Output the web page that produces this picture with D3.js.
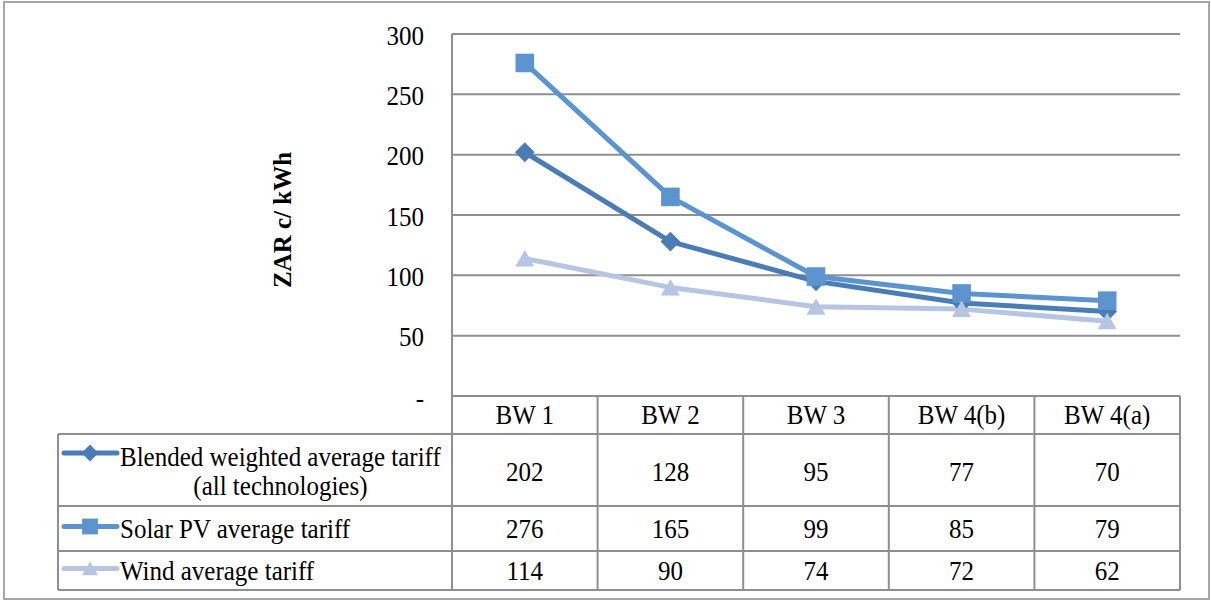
<!DOCTYPE html>
<html>
<head>
<meta charset="utf-8">
<script src="https://cdn.jsdelivr.net/npm/d3@7"></script>
<style>
  html, body { margin: 0; padding: 0; background: #fff; }
  svg { display: block; }
</style>
</head>
<body>
<svg id="chart" width="1211" height="600"></svg>
<script>
// Bid windows (categories)
const categories = ["BW 1", "BW 2", "BW 3", "BW 4(b)", "BW 4(a)"];

// Tariffs, ZAR c/kWh
const blended = [202, 128, 95, 77, 70];
const solarPV = [276, 165, 99, 85, 79];
const wind = [114, 90, 74, 72, 62];

// Series labels as shown in the data table
const seriesNames = [
  ["Blended weighted average tariff", "(all technologies)"],
  ["Solar PV average tariff"],
  ["Wind average tariff"]
];

// Y-axis ticks and their labels
const yTicks = [0, 50, 100, 150, 200, 250, 300];
const yTickLabels = ["-", "50", "100", "150", "200", "250", "300"];

const series = [
  { name: seriesNames[0], values: blended, color: "#4A7DB5", symbol: "diamond" },
  { name: seriesNames[1], values: solarPV, color: "#5B94CE", symbol: "square" },
  { name: seriesNames[2], values: wind, color: "#B6C6E2", symbol: "triangle" }
];

const FONT = "Liberation Serif, Times New Roman, serif";
const FS = 25;        // font size
const STRETCH = 1.12; // slight vertical stretch of the glyphs
const svg = d3.select("#chart");
const grid = "#8F8F8F";

// Layout
const plot = { left: 452, right: 1180, top: 34, bottom: 396 };
const tableLeft = 58;
const rowEdges = [396, 434, 506, 551, 590];

const x = d3.scalePoint().domain(categories).range([plot.left, plot.right]).padding(0.5);
const xb = d3.scaleBand().domain(categories).range([plot.left, plot.right]);
const y = d3.scaleLinear().domain([0, 300]).range([plot.bottom, plot.top]);

// Text helper: vertically centred at (tx, ty)
function label(parent, tx, ty, str, anchor) {
  return parent.append("text")
    .style("font-family", FONT)
    .attr("font-size", FS)
    .attr("text-anchor", anchor || "start")
    .attr("dy", "0.34em")
    .attr("transform", `translate(${tx},${ty}) scale(1,${STRETCH})`)
    .text(str);
}

// Outer frame
svg.append("rect")
  .attr("x", 4).attr("y", 2).attr("width", 1205).attr("height", 597)
  .attr("fill", "none").attr("stroke", "#A6A6A6").attr("stroke-width", 2);

// Gridlines
svg.append("g").selectAll("line").data(yTicks).join("line")
  .attr("x1", plot.left).attr("x2", plot.right)
  .attr("y1", d => y(d)).attr("y2", d => y(d))
  .attr("stroke", grid).attr("stroke-width", 2);

// Vertical axis line
svg.append("line")
  .attr("x1", plot.left).attr("x2", plot.left)
  .attr("y1", plot.top).attr("y2", plot.bottom)
  .attr("stroke", grid).attr("stroke-width", 2);

// Y tick labels
const yLab = svg.append("g");
yTicks.forEach((t, i) => label(yLab, 424, y(t) + 1, yTickLabels[i], "end"));

// Y axis title
svg.append("text")
  .style("font-family", FONT)
  .attr("transform", "translate(291,220) rotate(-90)")
  .attr("text-anchor", "middle")
  .attr("font-size", 25)
  .attr("font-weight", "bold")
  .text("ZAR c/ kWh");

// Marker shapes
const symbolMap = {
  diamond: d3.symbol().type(d3.symbolDiamond2).size(250),
  square: d3.symbol().type(d3.symbolSquare2).size(440),
  triangle: d3.symbol().type(d3.symbolTriangle2).size(260)
};
const markerShift = { diamond: 0, square: 0, triangle: 2.5 };
function markerPath(sym) {
  return symbolMap[sym]();
}

const line = d3.line().x((d, i) => x(categories[i])).y(d => y(d));

// Series lines
svg.append("g").selectAll("path").data(series).join("path")
  .attr("d", s => line(s.values))
  .attr("fill", "none")
  .attr("stroke", s => s.color)
  .attr("stroke-width", 5)
  .attr("stroke-linejoin", "round");

// Series markers
series.forEach(s => {
  svg.append("g").selectAll("path").data(s.values).join("path")
    .attr("d", markerPath(s.symbol))
    .attr("transform", (d, i) => `translate(${x(categories[i])},${y(d) + markerShift[s.symbol]})`)
    .attr("fill", s.color);
});

// Data table
const table = svg.append("g");

const tableTop = rowEdges[0];
table.append("line")
  .attr("x1", plot.left).attr("x2", plot.right)
  .attr("y1", tableTop).attr("y2", tableTop)
  .attr("stroke", grid).attr("stroke-width", 2);
rowEdges.slice(1).forEach(yy => {
  table.append("line")
    .attr("x1", tableLeft).attr("x2", plot.right)
    .attr("y1", yy).attr("y2", yy)
    .attr("stroke", grid).attr("stroke-width", 2);
});

const colEdges = categories.map(c => xb(c)).concat([plot.right]);
table.selectAll("line.col").data(colEdges).join("line")
  .attr("class", "col")
  .attr("x1", d => d).attr("x2", d => d)
  .attr("y1", tableTop).attr("y2", rowEdges[rowEdges.length - 1])
  .attr("stroke", grid).attr("stroke-width", 2);
table.append("line")
  .attr("x1", tableLeft).attr("x2", tableLeft)
  .attr("y1", rowEdges[1]).attr("y2", rowEdges[rowEdges.length - 1])
  .attr("stroke", grid).attr("stroke-width", 2);

// Header row
categories.forEach(c => label(table, x(c), (rowEdges[0] + rowEdges[1]) / 2 - 1, c, "middle"));

// Value rows with legend keys
const labelLeft = 120;
series.forEach((s, r) => {
  const top = rowEdges[r + 1], bottom = rowEdges[r + 2];
  const mid = (top + bottom) / 2;

  s.values.forEach((v, i) => label(table, x(categories[i]), mid + (s.name.length > 1 ? 1 : 0), v, "middle"));

  const keyY = s.name.length > 1 ? top + 19 : mid - 2;
  table.append("line")
    .attr("x1", 64).attr("x2", 117)
    .attr("y1", keyY).attr("y2", keyY)
    .attr("stroke", s.color).attr("stroke-width", 5)
    .attr("stroke-linecap", "round");
  table.append("path")
    .attr("d", markerPath(s.symbol))
    .attr("transform", `translate(90,${keyY + markerShift[s.symbol] * 0.8}) scale(0.85)`)
    .attr("fill", s.color);

  if (s.name.length > 1) {
    // Multi-line label: lines centred on the widest line, block starts at labelLeft
    const ys = s.name.map((t, k) => top + 22 + k * 29);
    const texts = s.name.map((t, k) => label(table, labelLeft, ys[k], t, "start"));
    const widths = texts.map(tx => tx.node().getComputedTextLength());
    const blockW = d3.max(widths);
    texts.forEach((tx, k) =>
      tx.attr("transform", `translate(${labelLeft + (blockW - widths[k]) / 2},${ys[k]}) scale(1,${STRETCH})`));
  } else {
    label(table, labelLeft, mid, s.name[0], "start");
  }
});
</script>
</body>
</html>
